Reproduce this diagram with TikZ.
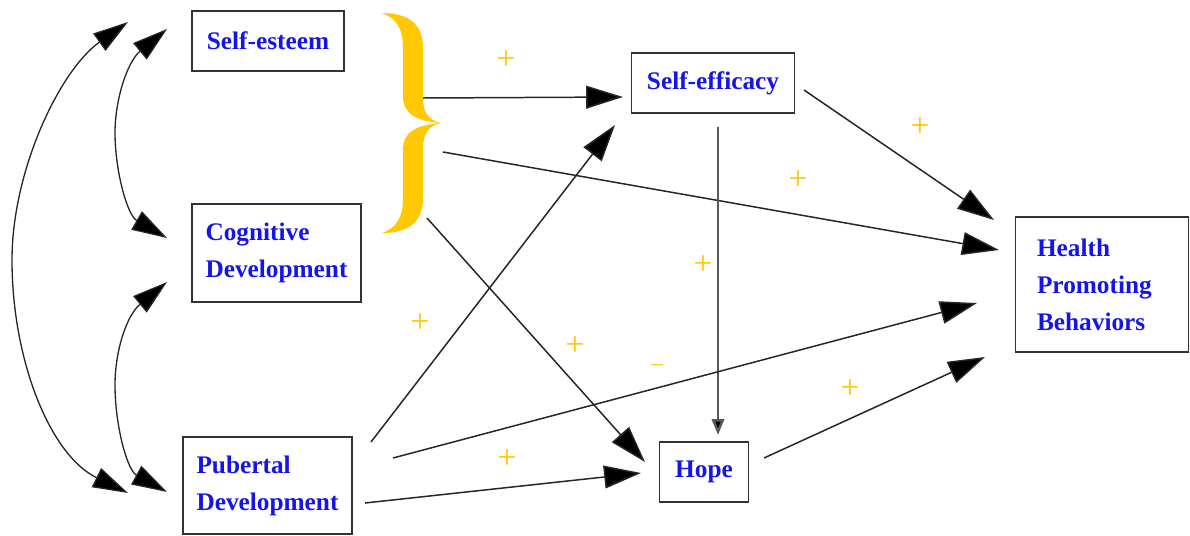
\documentclass[tikz,border=0pt]{standalone}
\usepackage{fontspec}
\setmainfont{Liberation Serif}
\usetikzlibrary{arrows.meta}
\definecolor{gold}{RGB}{255,200,0}
\definecolor{txtblue}{RGB}{20,20,235}
\tikzset{
  box/.style={draw=black!80, line width=1pt, fill=white, align=left, inner sep=0pt,
    font=\fontsize{14.4}{21}\selectfont\bfseries, text=txtblue},
  conn/.style={draw=black!85, line width=0.85pt, -{Triangle[length=21pt,width=13pt,fill=black]}},
  dconn/.style={draw=black!85, line width=0.75pt, {Triangle[length=20pt,width=12pt,fill=black]}-{Triangle[length=20pt,width=12pt,fill=black]}},
  vconn/.style={draw=black!65, line width=1.4pt, -{Triangle[length=9pt,width=7pt,fill=black]}},
  sign/.style={text=gold, font=\fontsize{19}{19}\selectfont, inner sep=0pt}
}
\begin{document}
\begin{tikzpicture}[x=0.02cm,y=-0.02cm]
\useasboundingbox (0,0) rectangle (1190,535);
% boxes
\node[box, minimum width=3.04cm, minimum height=1.2cm] (se) at (268,41) {Self-esteem};
\node[box, minimum width=3.38cm, minimum height=1.96cm] (cd) at (276.5,253) {Cognitive\\Development};
\node[box, minimum width=3.38cm, minimum height=1.94cm] (pd) at (267.5,485.5) {Pubertal\\Development};
\node[box, minimum width=3.26cm, minimum height=1.2cm] (sef) at (713,83) {Self-efficacy};
\node[box, minimum width=1.78cm, minimum height=1.2cm] (hope) at (704,472) {Hope};
\node[box, minimum width=3.46cm, minimum height=2.7cm, text width=2.6cm] (hpb) at (1102,284.5) {Health\\Promoting\\Behaviors};
% brace
\fill[gold] (382,13) .. controls (406,13) and (423,22) .. (423,48)
  -- (423,98) .. controls (423,112) and (428,120) .. (441,123)
  .. controls (428,126) and (423,134) .. (423,148)
  -- (423,198) .. controls (423,224) and (406,233) .. (382,233)
  .. controls (396,228) and (403,218) .. (403,198)
  -- (403,150) .. controls (403,132) and (416,125) .. (441,123)
  .. controls (416,121) and (403,114) .. (403,96)
  -- (403,48) .. controls (403,28) and (396,18) .. (382,13) -- cycle;
% connector end points
\coordinate (br1) at (423,98);
\coordinate (br2) at (443,152);
\coordinate (br3) at (427,218);
\coordinate (sefin1) at (623,97);
\coordinate (sefin2) at (615,125);
\coordinate (sefout1) at (804,90);
\coordinate (sefout2) at (718,127);
\coordinate (hpbin1) at (994,220);
\coordinate (hpbin2) at (999,250);
\coordinate (hpbin3) at (977,303);
\coordinate (hpbin4) at (985,357);
\coordinate (hopein1) at (645,462);
\coordinate (hopein2) at (641,473);
\coordinate (hopein3) at (718,435);
\coordinate (hopeout) at (764,458);
\coordinate (pdout1) at (371,442);
\coordinate (pdout2) at (393,458);
\coordinate (pdout3) at (365,503);
\coordinate (seL1) at (128,22);
\coordinate (seL2) at (167,29);
\coordinate (cdL1) at (167,238);
\coordinate (cdL2) at (167,282);
\coordinate (pdL1) at (128,493);
\coordinate (pdL2) at (167,492);
% connectors
\draw[conn] (br1) -- (sefin1);
\draw[conn] (br2) -- (hpbin2);
\draw[conn] (br3) -- (hopein1);
\draw[conn] (sefout1) -- (hpbin1);
\draw[vconn] (sefout2) -- (hopein3);
\draw[conn] (pdout1) -- (sefin2);
\draw[conn] (pdout2) -- (hpbin3);
\draw[conn] (pdout3) -- (hopein2);
\draw[conn] (hopeout) -- (hpbin4);
% correlations
\draw[dconn] (seL1) .. controls (60,70) and (12,170) .. (12,260) .. controls (12,360) and (50,455) .. (pdL1);
\draw[dconn] (seL2) .. controls (127,62) and (115,100) .. (115,133) .. controls (115,170) and (127,215) .. (cdL1);
\draw[dconn] (cdL2) .. controls (127,315) and (115,350) .. (115,385) .. controls (115,425) and (127,470) .. (pdL2);
% signs
\node[sign] (s1) at (506,60) {+};
\node[sign] (s2) at (920,127) {+};
\node[sign] (s3) at (798,180) {+};
\node[sign] (s4) at (703,265) {+};
\node[sign] (s5) at (420,323) {+};
\node[sign] (s6) at (575,346) {+};
\node[sign, font=\fontsize{13}{13}\selectfont] (s7) at (657,368) {\textendash};
\node[sign] (s8) at (850,389) {+};
\node[sign] (s9) at (507,459) {+};
\end{tikzpicture}
\end{document}
